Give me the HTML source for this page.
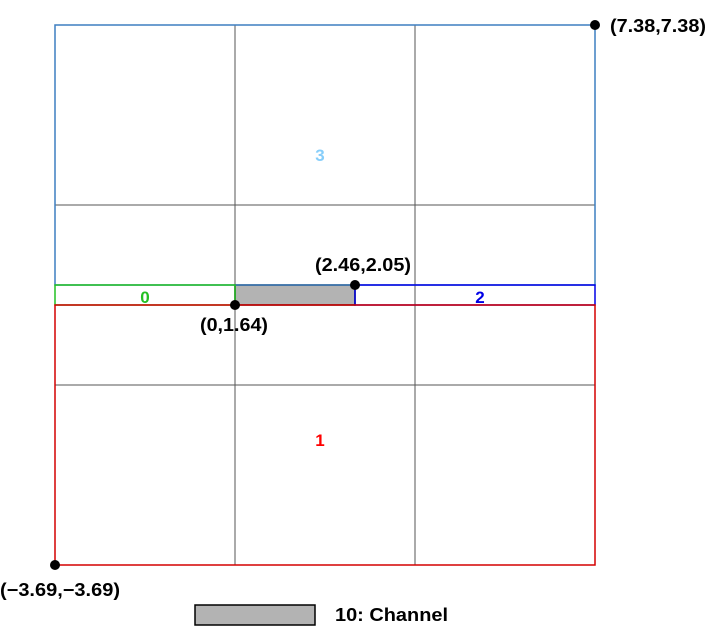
<!DOCTYPE html>
<html><head><meta charset="utf-8"><style>
html,body{margin:0;padding:0;background:#fff;}
svg{display:block;font-family:"Liberation Sans",sans-serif;}
</style></head><body>
<svg id="chart" width="728" height="628" viewBox="0 0 728 628" xmlns="http://www.w3.org/2000/svg"></svg>
<script>
const xDomain = [-3.69, 7.38];
const yDomain = [-3.69, 7.38];
const gridX = [0, 3.69];
const gridY = [0, 3.69];
const rectIds = ["3", "0", "2", "1"];
const rectX0 = [-3.69, -3.69, 2.46, -3.69];
const rectY0 = [2.05, 1.64, 1.64, -3.69];
const rectX1 = [7.38, 0, 7.38, 7.38];
const rectY1 = [7.38, 2.05, 2.05, 1.64];
const rectColors = ["#3d7fc1", "#22c022", "#0000e6", "#d40000"];
const labelColors = ["#87cefa", "#22c022", "#0000e6", "#ff0000"];
const channel = [0, 1.64, 2.46, 2.05];
const pointX = [7.38, -3.69, 0, 2.46];
const pointY = [7.38, -3.69, 1.64, 2.05];
const pointLabels = ["(7.38,7.38)", "(\u22123.69,\u22123.69)", "(0,1.64)", "(2.46,2.05)"];

const svg = document.getElementById('chart');
const NS = "http://www.w3.org/2000/svg";
const px0 = 55, px1 = 595, py0 = 565, py1 = 25;
const sx = v => px0 + (v - xDomain[0]) / (xDomain[1] - xDomain[0]) * (px1 - px0);
const sy = v => py0 - (v - yDomain[0]) / (yDomain[1] - yDomain[0]) * (py0 - py1);
function mk(tag, attrs, parent) {
  const e = document.createElementNS(NS, tag);
  for (const k in attrs) e.setAttribute(k, attrs[k]);
  (parent || svg).appendChild(e);
  return e;
}
gridX.forEach((g) => {
  const l = mk('line', {x1: sx(g), x2: sx(g), y1: sy(yDomain[0]), y2: sy(yDomain[1]), stroke: '#555', 'stroke-width': 1});
  
  
});
gridY.forEach((g) => {
  const l = mk('line', {x1: sx(xDomain[0]), x2: sx(xDomain[1]), y1: sy(g), y2: sy(g), stroke: '#555', 'stroke-width': 1});
  
  
});
const ch = mk('rect', {x: sx(channel[0]), y: sy(channel[3]), width: sx(channel[2]) - sx(channel[0]), height: sy(channel[1]) - sy(channel[3]), fill: '#b3b3b3', stroke: '#000', 'stroke-width': 1.5});


const lblOff = [[-5, 0], [0, 2], [5, 2], [-5, 5]];
rectIds.forEach((id, i) => {
  const x = sx(rectX0[i]), y = sy(rectY1[i]), w = sx(rectX1[i]) - x, h = sy(rectY0[i]) - y;
  const r = mk('rect', {x: x, y: y, width: w, height: h, fill: 'none', stroke: rectColors[i], 'stroke-width': 1.5});
  
  
  const t = mk('text', {x: x + w / 2 + lblOff[i][0], y: y + h / 2 + 6 + lblOff[i][1], 'text-anchor': 'middle', 'font-size': 17, 'font-weight': 'bold', fill: labelColors[i]});
  t.textContent = id;
  
  
});
const lblPos = [[15, 7, 'start'], [-55, 31, 'start'], [-35, 26, 'start'], [-40, -14, 'start']];
pointX.forEach((v, i) => {
  const c = mk('circle', {cx: sx(v), cy: sy(pointY[i]), r: 5, fill: '#000'});
  
  
  const t = mk('text', {x: sx(v) + lblPos[i][0], y: sy(pointY[i]) + lblPos[i][1], 'text-anchor': lblPos[i][2], 'font-size': 18, 'font-weight': 'bold', fill: '#000', textLength: i === 1 ? 120 : (i === 2 ? 68 : 96), lengthAdjust: 'spacingAndGlyphs'});
  t.textContent = pointLabels[i];
  
  
});
const lr = mk('rect', {x: 195, y: 605, width: 120, height: 20, fill: '#b3b3b3', stroke: '#000', 'stroke-width': 1.5});


const lt = mk('text', {x: 335, y: 621, 'font-size': 18, 'font-weight': 'bold', fill: '#000', textLength: 113, lengthAdjust: 'spacingAndGlyphs'});
lt.textContent = '10: Channel';


</script>
</body></html>
